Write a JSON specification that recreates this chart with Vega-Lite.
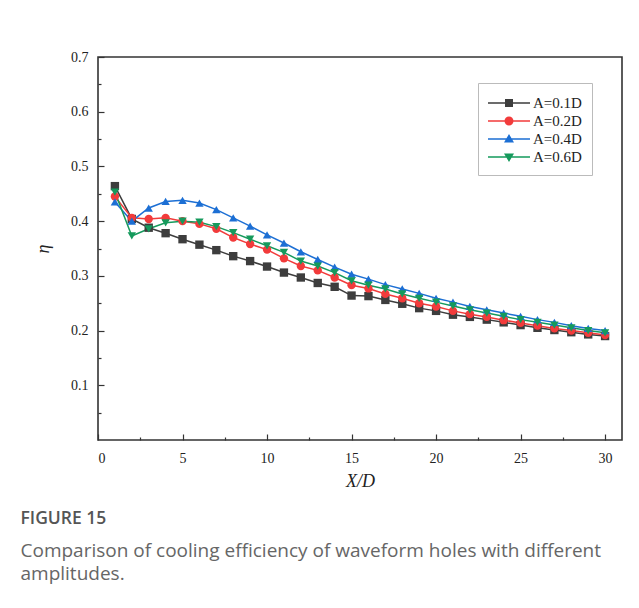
{
  "$schema": "https://vega.github.io/schema/vega-lite/v6.json",
  "width": 524,
  "height": 383,
  "autosize": "none",
  "padding": {"left": 98, "top": 57, "right": 17, "bottom": 168},
  "background": "white",
  "title": {
    "text": "FIGURE 15",
    "subtitle": ["Comparison of cooling efficiency of waveform holes with different", "amplitudes."],
    "orient": "bottom",
    "anchor": "start",
    "frame": "bounds",
    "dx": -14,
    "offset": 20,
    "font": "Open Sans",
    "fontSize": 17.5,
    "fontWeight": 600,
    "color": "#555555",
    "subtitleFont": "Open Sans",
    "subtitleFontSize": 19,
    "subtitleColor": "#666666",
    "subtitleLineHeight": 23,
    "subtitlePadding": 14
  },
  "config": {
    "view": {"stroke": "#333333", "strokeWidth": 1.6},
    "axis": {
      "domain": false,
      "grid": false,
      "tickColor": "#333333",
      "tickWidth": 1.2,
      "labelFont": "Liberation Serif",
      "labelFontSize": 14,
      "labelColor": "#222222",
      "titleFont": "Liberation Serif",
      "titleFontStyle": "italic",
      "titleFontWeight": "normal",
      "titleFontSize": 18,
      "titleColor": "#222222"
    }
  },
  "data": {
    "values": [
      {"x": 1, "eta": 0.464, "series": "A=0.1D"}, {"x": 2, "eta": 0.404, "series": "A=0.1D"}, {"x": 3, "eta": 0.388, "series": "A=0.1D"}, {"x": 4, "eta": 0.378, "series": "A=0.1D"}, {"x": 5, "eta": 0.367, "series": "A=0.1D"}, {"x": 6, "eta": 0.357, "series": "A=0.1D"}, {"x": 7, "eta": 0.347, "series": "A=0.1D"}, {"x": 8, "eta": 0.336, "series": "A=0.1D"}, {"x": 9, "eta": 0.327, "series": "A=0.1D"}, {"x": 10, "eta": 0.317, "series": "A=0.1D"},
      {"x": 11, "eta": 0.306, "series": "A=0.1D"}, {"x": 12, "eta": 0.297, "series": "A=0.1D"}, {"x": 13, "eta": 0.287, "series": "A=0.1D"}, {"x": 14, "eta": 0.280, "series": "A=0.1D"}, {"x": 15, "eta": 0.264, "series": "A=0.1D"}, {"x": 16, "eta": 0.263, "series": "A=0.1D"}, {"x": 17, "eta": 0.256, "series": "A=0.1D"}, {"x": 18, "eta": 0.249, "series": "A=0.1D"}, {"x": 19, "eta": 0.241, "series": "A=0.1D"}, {"x": 20, "eta": 0.236, "series": "A=0.1D"},
      {"x": 21, "eta": 0.229, "series": "A=0.1D"}, {"x": 22, "eta": 0.225, "series": "A=0.1D"}, {"x": 23, "eta": 0.220, "series": "A=0.1D"}, {"x": 24, "eta": 0.215, "series": "A=0.1D"}, {"x": 25, "eta": 0.210, "series": "A=0.1D"}, {"x": 26, "eta": 0.205, "series": "A=0.1D"}, {"x": 27, "eta": 0.201, "series": "A=0.1D"}, {"x": 28, "eta": 0.197, "series": "A=0.1D"}, {"x": 29, "eta": 0.193, "series": "A=0.1D"}, {"x": 30, "eta": 0.190, "series": "A=0.1D"},
      {"x": 1, "eta": 0.445, "series": "A=0.2D"}, {"x": 2, "eta": 0.406, "series": "A=0.2D"}, {"x": 3, "eta": 0.404, "series": "A=0.2D"}, {"x": 4, "eta": 0.406, "series": "A=0.2D"}, {"x": 5, "eta": 0.400, "series": "A=0.2D"}, {"x": 6, "eta": 0.395, "series": "A=0.2D"}, {"x": 7, "eta": 0.386, "series": "A=0.2D"}, {"x": 8, "eta": 0.370, "series": "A=0.2D"}, {"x": 9, "eta": 0.358, "series": "A=0.2D"}, {"x": 10, "eta": 0.348, "series": "A=0.2D"},
      {"x": 11, "eta": 0.332, "series": "A=0.2D"}, {"x": 12, "eta": 0.318, "series": "A=0.2D"}, {"x": 13, "eta": 0.310, "series": "A=0.2D"}, {"x": 14, "eta": 0.297, "series": "A=0.2D"}, {"x": 15, "eta": 0.283, "series": "A=0.2D"}, {"x": 16, "eta": 0.277, "series": "A=0.2D"}, {"x": 17, "eta": 0.267, "series": "A=0.2D"}, {"x": 18, "eta": 0.259, "series": "A=0.2D"}, {"x": 19, "eta": 0.250, "series": "A=0.2D"}, {"x": 20, "eta": 0.244, "series": "A=0.2D"},
      {"x": 21, "eta": 0.236, "series": "A=0.2D"}, {"x": 22, "eta": 0.230, "series": "A=0.2D"}, {"x": 23, "eta": 0.225, "series": "A=0.2D"}, {"x": 24, "eta": 0.219, "series": "A=0.2D"}, {"x": 25, "eta": 0.214, "series": "A=0.2D"}, {"x": 26, "eta": 0.209, "series": "A=0.2D"}, {"x": 27, "eta": 0.204, "series": "A=0.2D"}, {"x": 28, "eta": 0.200, "series": "A=0.2D"}, {"x": 29, "eta": 0.196, "series": "A=0.2D"}, {"x": 30, "eta": 0.192, "series": "A=0.2D"},
      {"x": 1, "eta": 0.435, "series": "A=0.4D"}, {"x": 2, "eta": 0.400, "series": "A=0.4D"}, {"x": 3, "eta": 0.424, "series": "A=0.4D"}, {"x": 4, "eta": 0.436, "series": "A=0.4D"}, {"x": 5, "eta": 0.438, "series": "A=0.4D"}, {"x": 6, "eta": 0.433, "series": "A=0.4D"}, {"x": 7, "eta": 0.421, "series": "A=0.4D"}, {"x": 8, "eta": 0.406, "series": "A=0.4D"}, {"x": 9, "eta": 0.391, "series": "A=0.4D"}, {"x": 10, "eta": 0.375, "series": "A=0.4D"},
      {"x": 11, "eta": 0.360, "series": "A=0.4D"}, {"x": 12, "eta": 0.344, "series": "A=0.4D"}, {"x": 13, "eta": 0.330, "series": "A=0.4D"}, {"x": 14, "eta": 0.316, "series": "A=0.4D"}, {"x": 15, "eta": 0.303, "series": "A=0.4D"}, {"x": 16, "eta": 0.294, "series": "A=0.4D"}, {"x": 17, "eta": 0.284, "series": "A=0.4D"}, {"x": 18, "eta": 0.276, "series": "A=0.4D"}, {"x": 19, "eta": 0.268, "series": "A=0.4D"}, {"x": 20, "eta": 0.259, "series": "A=0.4D"},
      {"x": 21, "eta": 0.252, "series": "A=0.4D"}, {"x": 22, "eta": 0.244, "series": "A=0.4D"}, {"x": 23, "eta": 0.238, "series": "A=0.4D"}, {"x": 24, "eta": 0.232, "series": "A=0.4D"}, {"x": 25, "eta": 0.226, "series": "A=0.4D"}, {"x": 26, "eta": 0.220, "series": "A=0.4D"}, {"x": 27, "eta": 0.215, "series": "A=0.4D"}, {"x": 28, "eta": 0.209, "series": "A=0.4D"}, {"x": 29, "eta": 0.204, "series": "A=0.4D"}, {"x": 30, "eta": 0.200, "series": "A=0.4D"},
      {"x": 1, "eta": 0.453, "series": "A=0.6D"}, {"x": 2, "eta": 0.373, "series": "A=0.6D"}, {"x": 3, "eta": 0.386, "series": "A=0.6D"}, {"x": 4, "eta": 0.397, "series": "A=0.6D"}, {"x": 5, "eta": 0.400, "series": "A=0.6D"}, {"x": 6, "eta": 0.398, "series": "A=0.6D"}, {"x": 7, "eta": 0.390, "series": "A=0.6D"}, {"x": 8, "eta": 0.379, "series": "A=0.6D"}, {"x": 9, "eta": 0.367, "series": "A=0.6D"}, {"x": 10, "eta": 0.355, "series": "A=0.6D"},
      {"x": 11, "eta": 0.343, "series": "A=0.6D"}, {"x": 12, "eta": 0.327, "series": "A=0.6D"}, {"x": 13, "eta": 0.318, "series": "A=0.6D"}, {"x": 14, "eta": 0.306, "series": "A=0.6D"}, {"x": 15, "eta": 0.291, "series": "A=0.6D"}, {"x": 16, "eta": 0.283, "series": "A=0.6D"}, {"x": 17, "eta": 0.276, "series": "A=0.6D"}, {"x": 18, "eta": 0.267, "series": "A=0.6D"}, {"x": 19, "eta": 0.259, "series": "A=0.6D"}, {"x": 20, "eta": 0.252, "series": "A=0.6D"},
      {"x": 21, "eta": 0.245, "series": "A=0.6D"}, {"x": 22, "eta": 0.238, "series": "A=0.6D"}, {"x": 23, "eta": 0.232, "series": "A=0.6D"}, {"x": 24, "eta": 0.226, "series": "A=0.6D"}, {"x": 25, "eta": 0.220, "series": "A=0.6D"}, {"x": 26, "eta": 0.215, "series": "A=0.6D"}, {"x": 27, "eta": 0.210, "series": "A=0.6D"}, {"x": 28, "eta": 0.205, "series": "A=0.6D"}, {"x": 29, "eta": 0.200, "series": "A=0.6D"}, {"x": 30, "eta": 0.196, "series": "A=0.6D"}
    ]
  },
  "layer": [
    {
      "mark": {"type": "line", "strokeWidth": 1.5},
      "encoding": {
        "x": {"field": "x", "type": "quantitative", "scale": {"domain": [0, 31], "nice": false, "zero": false},
              "axis": {"orient": "bottom", "values": [0, 2.5, 5, 7.5, 10, 12.5, 15, 17.5, 20, 22.5, 25, 27.5, 30], "tickCount": 30,
                       "labelExpr": "datum.value % 5 === 0 ? datum.label : ''",
                       "tickSize": {"condition": {"test": "datum.value % 5 === 0", "value": -6}, "value": -3},
                       "labelPadding": 17, "title": "X/D", "titlePadding": 7}},
        "y": {"field": "eta", "type": "quantitative", "scale": {"domain": [0, 0.7], "nice": false},
              "axis": {"orient": "left", "values": [0.05, 0.1, 0.15, 0.2, 0.25, 0.3, 0.35, 0.4, 0.45, 0.5, 0.55, 0.6, 0.65, 0.7], "tickCount": 30,
                       "labelExpr": "indexof([0.1, 0.2, 0.3, 0.4, 0.5, 0.6, 0.7], datum.value) >= 0 ? format(datum.value, '.1f') : ''",
                       "tickSize": {"condition": {"test": "indexof([0.1, 0.2, 0.3, 0.4, 0.5, 0.6, 0.7], datum.value) >= 0", "value": -6}, "value": -3},
                       "labelPadding": 16, "title": "η", "titlePadding": 18}},
        "color": {"field": "series", "type": "nominal", "legend": null,
                  "scale": {"domain": ["A=0.1D", "A=0.2D", "A=0.4D", "A=0.6D"], "range": ["#3d3d3d", "#f23b3b", "#1c6fd4", "#159a5c"]}},
        "detail": {"field": "series"}
      }
    },
    {
      "mark": {"type": "point", "filled": true, "opacity": 1, "size": 70},
      "encoding": {
        "x": {"field": "x", "type": "quantitative"},
        "y": {"field": "eta", "type": "quantitative"},
        "color": {"field": "series", "type": "nominal", "legend": null},
        "shape": {"field": "series", "type": "nominal", "legend": null,
                  "scale": {"domain": ["A=0.1D", "A=0.2D", "A=0.4D", "A=0.6D"], "range": ["square", "circle", "triangle-up", "triangle-down"]}}
      }
    },
    {
      "mark": {"type": "point", "filled": true, "opacity": 0},
      "encoding": {
        "x": {"field": "x", "type": "quantitative"},
        "y": {"field": "eta", "type": "quantitative"},
        "color": {"field": "series", "type": "nominal",
                  "legend": {
                    "orient": "none", "legendX": 380, "legendY": 26, "title": null,
                    "strokeColor": "#bbbbbb", "fillColor": "white", "padding": 10,
                    "labelFont": "Liberation Serif", "labelFontSize": 15, "labelColor": "#222222", "labelOffset": 25,
                    "symbolSize": 400, "symbolOpacity": 1, "symbolStrokeWidth": 0, "rowPadding": -1.7
                  }},
        "shape": {"field": "series", "type": "nominal", "legend": null,
                  "scale": {"domain": ["A=0.1D", "A=0.2D", "A=0.4D", "A=0.6D"],
                            "range": ["M-1,-0.075H3.2V0.075H-1ZM0.7,-0.4H1.5V0.4H0.7Z",
                                      "M-1,-0.075H3.2V0.075H-1ZM0.65,0A0.45,0.45 0 1,1 1.55,0A0.45,0.45 0 1,1 0.65,0Z",
                                      "M-1,-0.075H3.2V0.075H-1ZM1.1,-0.5L1.6,0.35H0.6Z",
                                      "M-1,-0.075H3.2V0.075H-1ZM1.1,0.5L0.6,-0.35H1.6Z"]}}
      }
    }
  ],
  "resolve": {"scale": {"shape": "independent"}, "legend": {"color": "independent", "shape": "independent"}}
}
